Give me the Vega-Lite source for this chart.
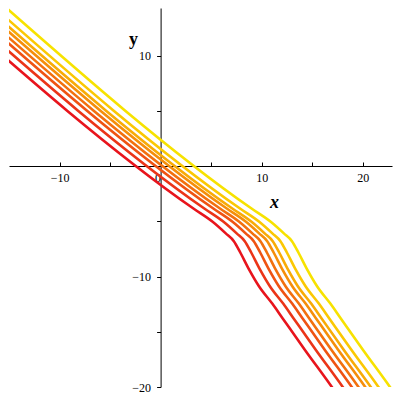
{
  "$schema": "https://vega.github.io/schema/vega-lite/v6.json",
  "width": 383,
  "height": 379,
  "autosize": {"type": "none"},
  "padding": {"left": 9, "top": 8, "right": 8, "bottom": 13},
  "background": "white",
  "config": {"view": {"stroke": null}},
  "data": {"values": [
    {"c":0,"x":-21.75,"y":14.9},{"c":0,"x":3.25,"y":-3.85},{"c":0,"x":5.15,"y":-5.05},{"c":0,"x":6.45,"y":-6.1},{"c":0,"x":7.25,"y":-6.8},{"c":0,"x":7.9,"y":-7.85},{"c":0,"x":8.75,"y":-9.35},{"c":0,"x":9.75,"y":-10.9},{"c":0,"x":11.05,"y":-12.45},{"c":0,"x":12.05,"y":-13.75},{"c":0,"x":14.25,"y":-16.6},{"c":0,"x":16.95,"y":-20},{"c":0,"x":17.75,"y":-21.04},
    {"c":1,"x":-20.67,"y":14.9},{"c":1,"x":4.33,"y":-3.85},{"c":1,"x":6.23,"y":-5.05},{"c":1,"x":7.53,"y":-6.1},{"c":1,"x":8.33,"y":-6.8},{"c":1,"x":8.98,"y":-7.85},{"c":1,"x":9.83,"y":-9.35},{"c":1,"x":10.83,"y":-10.9},{"c":1,"x":12.13,"y":-12.45},{"c":1,"x":13.13,"y":-13.75},{"c":1,"x":15.33,"y":-16.6},{"c":1,"x":18.03,"y":-20},{"c":1,"x":18.83,"y":-21.04},
    {"c":2,"x":-19.78,"y":14.9},{"c":2,"x":5.22,"y":-3.85},{"c":2,"x":7.12,"y":-5.05},{"c":2,"x":8.42,"y":-6.1},{"c":2,"x":9.22,"y":-6.8},{"c":2,"x":9.87,"y":-7.85},{"c":2,"x":10.72,"y":-9.35},{"c":2,"x":11.72,"y":-10.9},{"c":2,"x":13.02,"y":-12.45},{"c":2,"x":14.02,"y":-13.75},{"c":2,"x":16.22,"y":-16.6},{"c":2,"x":18.92,"y":-20},{"c":2,"x":19.72,"y":-21.04},
    {"c":3,"x":-19.12,"y":14.9},{"c":3,"x":5.88,"y":-3.85},{"c":3,"x":7.78,"y":-5.05},{"c":3,"x":9.08,"y":-6.1},{"c":3,"x":9.88,"y":-6.8},{"c":3,"x":10.53,"y":-7.85},{"c":3,"x":11.38,"y":-9.35},{"c":3,"x":12.38,"y":-10.9},{"c":3,"x":13.68,"y":-12.45},{"c":3,"x":14.68,"y":-13.75},{"c":3,"x":16.88,"y":-16.6},{"c":3,"x":19.58,"y":-20},{"c":3,"x":20.38,"y":-21.04},
    {"c":4,"x":-18.45,"y":14.9},{"c":4,"x":6.55,"y":-3.85},{"c":4,"x":8.45,"y":-5.05},{"c":4,"x":9.75,"y":-6.1},{"c":4,"x":10.55,"y":-6.8},{"c":4,"x":11.2,"y":-7.85},{"c":4,"x":12.05,"y":-9.35},{"c":4,"x":13.05,"y":-10.9},{"c":4,"x":14.35,"y":-12.45},{"c":4,"x":15.35,"y":-13.75},{"c":4,"x":17.55,"y":-16.6},{"c":4,"x":20.25,"y":-20},{"c":4,"x":21.05,"y":-21.04},
    {"c":5,"x":-17.9,"y":14.9},{"c":5,"x":7.1,"y":-3.85},{"c":5,"x":9.0,"y":-5.05},{"c":5,"x":10.3,"y":-6.1},{"c":5,"x":11.1,"y":-6.8},{"c":5,"x":11.75,"y":-7.85},{"c":5,"x":12.6,"y":-9.35},{"c":5,"x":13.6,"y":-10.9},{"c":5,"x":14.9,"y":-12.45},{"c":5,"x":15.9,"y":-13.75},{"c":5,"x":18.1,"y":-16.6},{"c":5,"x":20.8,"y":-20},{"c":5,"x":21.6,"y":-21.04},
    {"c":6,"x":-17.14,"y":14.9},{"c":6,"x":7.86,"y":-3.85},{"c":6,"x":9.76,"y":-5.05},{"c":6,"x":11.06,"y":-6.1},{"c":6,"x":11.86,"y":-6.8},{"c":6,"x":12.51,"y":-7.85},{"c":6,"x":13.36,"y":-9.35},{"c":6,"x":14.36,"y":-10.9},{"c":6,"x":15.66,"y":-12.45},{"c":6,"x":16.66,"y":-13.75},{"c":6,"x":18.86,"y":-16.6},{"c":6,"x":21.56,"y":-20},{"c":6,"x":22.36,"y":-21.04},
    {"c":7,"x":-16,"y":14.9},{"c":7,"x":9,"y":-3.85},{"c":7,"x":10.9,"y":-5.05},{"c":7,"x":12.2,"y":-6.1},{"c":7,"x":13.0,"y":-6.8},{"c":7,"x":13.65,"y":-7.85},{"c":7,"x":14.5,"y":-9.35},{"c":7,"x":15.5,"y":-10.9},{"c":7,"x":16.8,"y":-12.45},{"c":7,"x":17.8,"y":-13.75},{"c":7,"x":20,"y":-16.6},{"c":7,"x":22.7,"y":-20},{"c":7,"x":23.5,"y":-21.04}
  ]},
  "mark": {"type": "line", "clip": true, "strokeWidth": 2.6, "interpolate": "monotone"},
  "encoding": {
    "x": {
      "field": "x", "type": "quantitative",
      "scale": {"domain": [-15, 22.9], "nice": false, "zero": false},
      "axis": {
        "orient": "bottom", "offset": -221, "grid": false,
        "values": [-10, -5, 0, 5, 10, 15, 20],
        "labelExpr": "datum.value % 10 === 0 ? datum.label : ''",
        "labelAlign": {"condition": {"test": "datum.value === 0", "value": "right"}, "value": "center"},
        "tickSize": -4, "labelPadding": 10,
        "domainColor": "black", "tickColor": "black", "labelColor": "black",
        "labelFont": "Liberation Serif", "labelFontSize": 12,
        "title": "x", "titleFont": "Liberation Serif", "titleFontSize": 18,
        "titleFontStyle": "italic", "titleFontWeight": "bold", "titleColor": "black",
        "titleX": 265, "titleY": 41.5, "titleAlign": "center", "titleBaseline": "alphabetic"
      }
    },
    "y": {
      "field": "y", "type": "quantitative",
      "scale": {"domain": [-20, 14.3], "nice": false, "zero": false},
      "axis": {
        "orient": "left", "offset": -151.6, "grid": false,
        "values": [-20, -15, -10, -5, 5, 10],
        "labelExpr": "datum.value % 10 === 0 ? datum.label : ''",
        "tickSize": 4, "labelPadding": 6,
        "domainColor": "black", "tickColor": "black", "labelColor": "black",
        "labelFont": "Liberation Serif", "labelFontSize": 12,
        "title": "y", "titleFont": "Liberation Serif", "titleFontSize": 18,
        "titleFontWeight": "bold", "titleColor": "black", "titleAngle": 0,
        "titleX": -27.5, "titleY": 36, "titleAlign": "center", "titleBaseline": "alphabetic"
      }
    },
    "color": {
      "field": "c", "type": "nominal", "legend": null,
      "scale": {"domain": [0, 1, 2, 3, 4, 5, 6, 7],
        "range": ["#e8141c", "#eb3418", "#ef5313", "#f2700e", "#f58e0a", "#f8ab06", "#fbc803", "#f7e200"]}
    }
  }
}
